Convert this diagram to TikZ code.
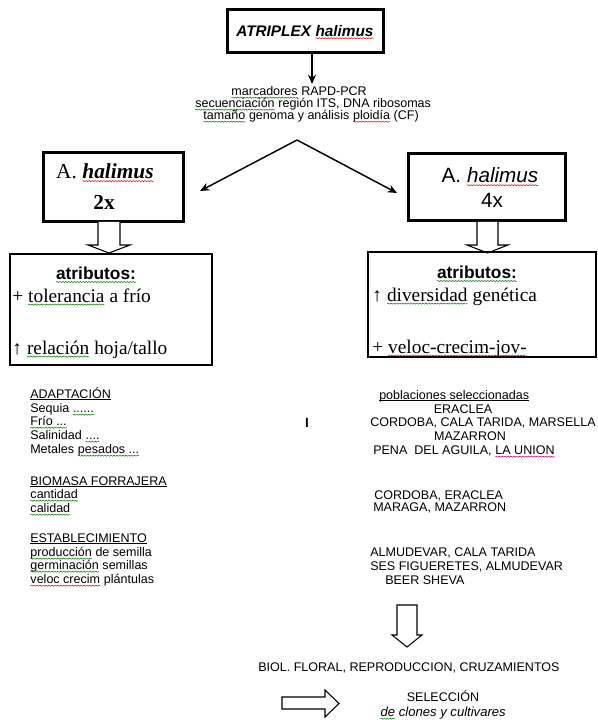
\documentclass[tikz,border=0pt]{standalone}
\usepackage{fontspec}
\setmainfont{Liberation Sans}
\newfontfamily\serif{Liberation Serif}
\usetikzlibrary{arrows.meta,calc,decorations.pathmorphing}
\colorlet{spred}{red!85!black}
\colorlet{spgreen}{green!45!black}
\newcommand\ulx[1]{\setbox0\hbox{#1}\rlap{\rule[-1.3pt]{\wd0}{0.55pt}}\box0}
\newcommand\wv[2][spred]{\tikz[baseline=(w.base)]{\node[inner sep=0,outer sep=0,text height=,text depth=] (w) {#2};\draw[#1,line width=0.35pt,decorate,decoration={snake,amplitude=0.45pt,segment length=2.2pt}] ([yshift=-1.7pt]w.base west) -- ([yshift=-1.7pt]w.base east);}}
\begin{document}
\begin{tikzpicture}[x=0.75pt,y=-0.75pt,
  thickbox/.style={draw,line width=2.25pt,inner sep=0},
  thinbox/.style={draw,line width=0.8pt,inner sep=0},
  small/.style={font=\fontsize{9.4}{10}\selectfont,inner sep=0,text height=6.6pt,text depth=0pt},
  lw/.style={small,anchor=west},
  lc/.style={small,anchor=center},
  serifline/.style={font=\serif\fontsize{14.5}{16}\selectfont,inner sep=0,anchor=west,text height=9.5pt,text depth=0pt},
  attr/.style={font=\bfseries\fontsize{13}{14}\selectfont,inner sep=0},
  hollow/.style={draw,line width=0.8pt,fill=white,line join=miter},
  conn/.style={line width=1.1pt,-{Stealth[length=7pt,width=6pt]}}]
\useasboundingbox[fill=white] (0,0) rectangle (597,720);

% top box
\node[thickbox,minimum width=117pt,minimum height=32.25pt] (top) at (305,31.5) {};
\node[inner sep=0,font=\bfseries\itshape\fontsize{11.5}{12}\selectfont] (toptxt) at (305,32) {ATRIPLEX \wv{halimus}};

% methods text
\node[lc] (m1) at (299,91) {\wv[spgreen]{marcadores} RAPD-PCR};
\node[lc] (m2) at (313,103) {\wv[spgreen]{secuenciación} región ITS, DNA ribosomas};
\node[lc] (m3) at (311,115) {\wv[spgreen]{tamaño} genoma y análisis \wv{ploidía} (CF)};
\coordinate (atip) at (312,84);
\draw[conn] (top.south -| atip) -- (atip);

% caret arrows
\coordinate (apex) at (297,140);
\coordinate (tipL) at (200,191);
\coordinate (tipR) at (397,193);
\draw[conn] (apex) -- (tipL);
\draw[conn] (apex) -- (tipR);

% 2x box
\node[thickbox,minimum width=105pt,minimum height=51.75pt] (b2) at (113,187.5) {};
\node[inner sep=0,font=\serif\fontsize{16}{18}\selectfont] (b2a) at (105,173) {A. \wv{\textbf{\textit{halimus}}}};
\node[inner sep=0,font=\serif\bfseries\fontsize{16}{18}\selectfont] (b2b) at (104,202) {2x};

% 4x box
\node[thickbox,minimum width=117.75pt,minimum height=50.25pt] (b4) at (486.5,187.5) {};
\node[inner sep=0,font=\fontsize{15.5}{18}\selectfont] (b4a) at (490,177) {A. \wv{\textit{halimus}}};
\node[inner sep=0,font=\fontsize{15.5}{18}\selectfont] (b4b) at (492,200) {4x};

% hollow arrows below boxes
\draw[hollow] (98,222) -- (98,245) -- (88,245) -- (109,253) -- (130,245) -- (120,245) -- (120,222);
\draw[hollow] (477,222) -- (477,245) -- (467,245) -- (487.5,253) -- (508,245) -- (498,245) -- (498,222);

% attribute boxes
\node[thinbox,minimum width=151.5pt,minimum height=83.25pt] (at2) at (111,309.5) {};
\node[attr] (at2t) at (96,275) {\wv[spgreen]{atributos:}};
\node[serifline] (at2a) at (12,296) {+ \wv[spgreen]{tolerancia} a frío};
\node[serifline] (at2b) at (12,348) {↑ \wv[spgreen]{relación} hoja/tallo};

\node[thinbox,minimum width=171pt,minimum height=78.75pt] (at4) at (482,304.5) {};
\node[attr] (at4t) at (477,274) {\wv[spgreen]{atributos:}};
\node[serifline] (at4a) at (372,295) {↑ \wv[spgreen]{diversidad} genética};
\node[serifline] (at4b) at (372,347) {+ \wv{veloc-crecim-jov-}};

% lower left list
\foreach \y/\t [count=\i] in {
  394/{\ulx{ADAPTACIÓN}},
  408/{Sequia \wv[spgreen]{......}},
  421/{\wv[spgreen]{Frío ...}},
  435/{Salinidad \wv[spgreen]{....}},
  449/{Metales \wv[spgreen]{pesados ...}},
  481/{\ulx{BIOMASA FORRAJERA}},
  494/{\wv[spgreen]{cantidad}},
  508/{\wv[spgreen]{calidad}},
  538/{\ulx{ESTABLECIMIENTO}},
  552/{\wv[spgreen]{producción} de semilla},
  565/{\wv[spgreen]{germinación} semillas},
  579/{\wv{veloc crecim} plántulas}}
  {\node[lw] (ll\i) at (30,\y) {\t};}

% lower right list
\node[lw] (pob) at (379,395) {\ulx{poblaciones seleccionadas}};
\node[lc] (r1) at (463,409) {ERACLEA};
\node[lw] (r2) at (370,422) {CORDOBA, CALA TARIDA, MARSELLA};
\node[lc] (r3) at (470,436) {MAZARRON};
\node[lw] (r4) at (373,450) {PENA\ \ DEL AGUILA, \wv[violet!70!red]{LA UNION}};
\node[inner sep=0,font=\bfseries\fontsize{10}{11}\selectfont] (cur) at (307,423) {I};
\node[lw] (r5) at (374,495) {CORDOBA, ERACLEA};
\node[lw] (r6) at (373,507) {MARAGA, MAZARRON};
\node[lw] (r7) at (370,552) {ALMUDEVAR, CALA TARIDA};
\node[lw] (r8) at (370,566) {SES FIGUERETES, ALMUDEVAR};
\node[lw] (r9) at (385,580) {BEER SHEVA};

% bottom
\draw[hollow] (397,605) -- (397,635) -- (392,635) -- (407,647) -- (422,635) -- (417,635) -- (417,605) -- cycle;
\node[lw] (biol) at (258,667) {BIOL. FLORAL, REPRODUCCION, CRUZAMIENTOS};
\draw[hollow] (282,697) -- (325,697) -- (325,690) -- (339,703.5) -- (325,717) -- (325,709) -- (282,709) -- cycle;
\node[lc] (sel) at (443,697) {SELECCIÓN};
\node[lc,font=\itshape\fontsize{9.8}{10}\selectfont] (clon) at (443,712) {\wv[spgreen]{de} clones y cultivares};
\end{tikzpicture}
\end{document}
